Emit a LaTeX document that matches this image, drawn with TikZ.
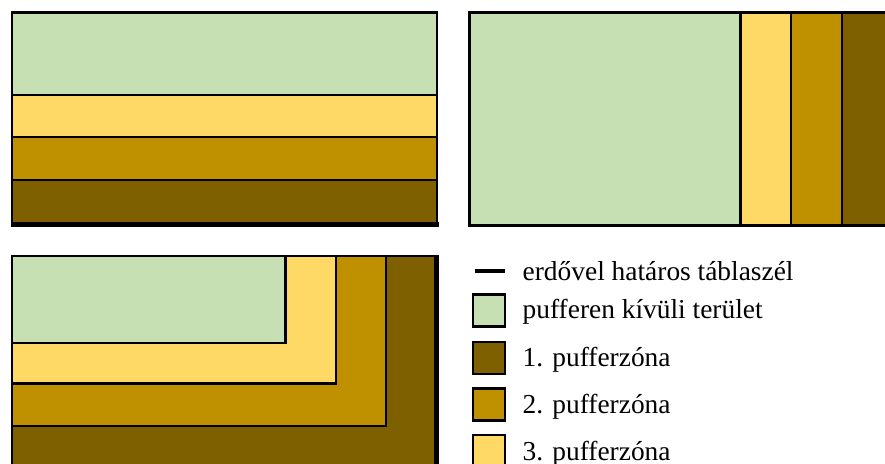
\documentclass[tikz,border=0pt]{standalone}
\usepackage{fontspec}
\setmainfont{Liberation Serif}
\definecolor{outside}{HTML}{C6E0B4}
\definecolor{zoneA}{HTML}{7F6000}
\definecolor{zoneB}{HTML}{BF9000}
\definecolor{zoneC}{HTML}{FFD966}
\tikzset{
  field/.style={draw=black, line width=2.2pt},
  forestedge/.style={draw=black, line width=4.2pt},
  keybox/.style={draw=black, line width=2.2pt},
  keytext/.style={anchor=base west, inner sep=0pt, font=\fontsize{27.4}{30}\selectfont}
}
\begin{document}
\begin{tikzpicture}[x=1pt, y=-1pt]
\useasboundingbox (0,0) rectangle (885,463);

% field bordered by forest along its lower edge: horizontal strips
\fill[field, fill=outside] (12,12.5) rectangle (437,95);
\fill[field, fill=zoneC] (12,95) rectangle (437,137);
\fill[field, fill=zoneB] (12,137) rectangle (437,180);
\fill[field, fill=zoneA] (12,180) rectangle (437,224.5);
\draw[forestedge] (11,224.5) -- (438.5,224.5);

% field bordered by forest along its right edge: vertical strips
\fill[field, fill=outside] (469.5,12.5) rectangle (740.5,225.5);
\fill[field, fill=zoneC] (740.5,12.5) rectangle (791,225.5);
\fill[field, fill=zoneB] (791,12.5) rectangle (842,225.5);
\fill[field, fill=zoneA] (842,12.5) rectangle (895,225.5);

% field bordered by forest along two edges: nested L-shaped zones
\fill[field, fill=zoneA] (12,256) rectangle (437,475);
\fill[field, fill=zoneB] (12,256) rectangle (386,426);
\fill[field, fill=zoneC] (12,256) rectangle (336,383.5);
\fill[field, fill=outside] (12,256) rectangle (285.5,343);
\draw[forestedge] (436.5,255) -- (436.5,475);

% legend
\coordinate (ls) at (475,270.8);
\coordinate (le) at (505,270.8);
\draw[line width=3.5pt] (ls) -- (le);
\node[keytext] (t0) at (522.5,280.7) {erdővel határos táblaszél};

\draw[keybox, fill=outside] (473,294.5) rectangle (505,326.5);
\node[keytext] (t1) at (522.5,318.3) {pufferen kívüli terület};

\draw[keybox, fill=zoneA] (473,342) rectangle (505,374);
\node[keytext] (t2) at (522.5,366.3) {1. pufferzóna};

\draw[keybox, fill=zoneB] (473,388.5) rectangle (505,420.5);
\node[keytext] (t3) at (522.5,413.3) {2. pufferzóna};

\draw[keybox, fill=zoneC] (473,435) rectangle (505,467);
\node[keytext] (t4) at (522.5,460) {3. pufferzóna};
\end{tikzpicture}
\end{document}
